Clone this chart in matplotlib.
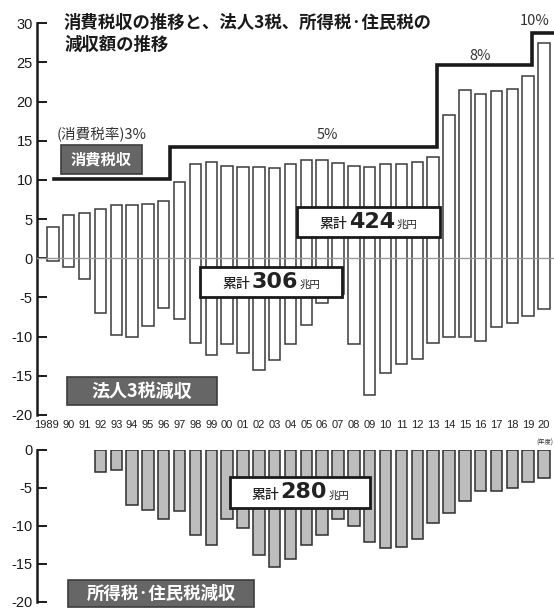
import matplotlib
matplotlib.use("Agg")
import matplotlib.pyplot as plt
from matplotlib import font_manager
from matplotlib.patches import Rectangle
from matplotlib.offsetbox import TextArea, HPacker, AnnotationBbox

# 年度
years = list(range(1989, 2021))
year_labels = ["1989"] + [f"{y % 100:02d}" for y in years[1:]]

# 消費税収(兆円)
consumption = [4.0, 5.5, 5.8, 6.3, 6.8, 6.8, 6.9, 7.3, 9.7, 12.1,
               12.3, 11.8, 11.7, 11.6, 11.5, 12.0, 12.5, 12.5, 12.2, 11.8,
               11.6, 12.1, 12.1, 12.3, 12.9, 18.3, 21.5, 21.0, 21.3, 21.6,
               23.3, 27.5]

# 法人3税減収(兆円)
corporate = [-0.3, -1.1, -2.7, -7.0, -9.8, -10.1, -8.6, -6.3, -7.8, -10.8,
             -12.3, -10.9, -12.1, -14.2, -13.0, -11.0, -8.5, -5.7, -4.5, -11.0,
             -17.5, -14.6, -13.5, -12.8, -10.8, -10.0, -10.1, -10.6, -8.8, -8.2,
             -7.4, -6.5]

# 所得税・住民税減収(兆円)
income = [0, 0, 0, -3.0, -2.7, -7.3, -8.0, -9.1, -8.1, -11.3,
          -12.5, -9.1, -10.3, -13.8, -15.4, -14.4, -12.5, -11.3, -9.1, -10.1,
          -12.2, -12.9, -12.8, -11.8, -9.6, -8.3, -6.8, -5.5, -5.5, -5.1,
          -4.3, -3.7]

# 消費税率の段階線
rate_labels = ["(消費税率)3%", "5%", "8%", "10%"]
rate_start = [1989.1, 1996.4, 2013.22, 2019.22]
rate_level = [10.1, 14.25, 24.7, 28.7]

totals = {"consumption": "424", "corporate": "306", "income": "280"}

W, H = 554, 610
CJK = ["Noto Sans CJK JP", "DejaVu Sans"]
plt.rcParams["font.family"] = CJK
plt.rcParams["axes.unicode_minus"] = False

names = {f.name for f in font_manager.fontManager.ttflist}
NARROW = "Liberation Sans Narrow" if "Liberation Sans Narrow" in names else "Liberation Sans"


def fx(px):
    return px / W


def fy(py):
    return 1 - py / H


fig = plt.figure(figsize=(W / 100, H / 100), dpi=100)
fig.patch.set_facecolor("white")

XMIN, XMAX = 1988.0, 2020.63
ax = fig.add_axes([fx(37), fy(415), fx(554) - fx(37), fy(23.3) - fy(415)])
ax2 = fig.add_axes([fx(37), fy(601.7), fx(554) - fx(37), fy(449.5) - fy(601.7)])

# 上段: 消費税収と法人3税減収を1本の棒で
heights = [c - k for c, k in zip(consumption, corporate)]
ax.bar(years, heights, bottom=corporate, width=0.72, color="white",
       edgecolor="#3a3a3a", linewidth=1.1, zorder=2)
ax.axhline(0, color="#9a9a9a", linewidth=1.0, zorder=3)

# 消費税率の段階線
xs, ys = [], []
ends = rate_start[1:] + [XMAX]
for x0, x1, lv in zip(rate_start, ends, rate_level):
    xs += [x0, x1]
    ys += [lv, lv]
ax.plot(xs, ys, color="#1a1a1a", linewidth=2.6, solid_joinstyle="miter", zorder=4)

ax.set_xlim(XMIN, XMAX)
ax.set_ylim(-20, 30)
ax.set_yticks(range(-20, 31, 5))
ax.set_yticklabels([str(v) for v in range(-20, 31, 5)], family=NARROW, fontsize=10.5)
ax.set_xticks([])

# 下段: 所得税・住民税減収(減収のない年は描かない)
inc_years = [y for y, v in zip(years, income) if v != 0]
inc_vals = [v for v in income if v != 0]
ax2.bar(inc_years, inc_vals, width=0.72, color="#bdbdbd", edgecolor="#2e2e2e",
        linewidth=1.1, zorder=2)
ax2.set_xlim(XMIN, XMAX)
ax2.set_ylim(-20, 0)
ax2.set_yticks(range(-20, 1, 5))
ax2.set_yticklabels([str(v) for v in range(-20, 1, 5)], family=NARROW, fontsize=10.5)
ax2.set_xticks([])

for a in (ax, ax2):
    for side in ("top", "right", "bottom"):
        a.spines[side].set_visible(False)
    a.spines["left"].set_linewidth(1.8)
    a.spines["left"].set_color("#1a1a1a")
    a.tick_params(axis="y", direction="in", length=7, width=1.4, pad=3,
                  colors="#1a1a1a")
    a.set_facecolor("none")

# 年度ラベル
for y, lab in zip(years, year_labels):
    if lab == "1989":
        ax.text(y + 0.38, -20.6, lab, ha="right", va="top", family=NARROW,
                fontsize=8, color="#222222")
    else:
        ax.text(y, -20.6, lab, ha="center", va="top", family=NARROW,
                fontsize=8, color="#222222")
ax.text(XMAX - 0.05, -23.0, "(年度)", ha="right", va="top", fontsize=4.5,
        color="#333333")

# 税率ラベル
rate_pos = [(57, 134, "left"), (327, 135, "center"), (480, 56, "center"),
            (535, 21, "center")]
for (px, py, ha), lab in zip(rate_pos, rate_labels):
    fig.text(fx(px), fy(py), lab, ha=ha, va="center", fontsize=10.5,
             color="#333333")

# タイトル
fig.text(fx(64), fy(22.5), "消費税収の推移と、法人3税、所得税·住民税の",
         ha="left", va="center", fontsize=12.5, fontweight="bold", color="#1a1a1a")
fig.text(fx(64), fy(45), "減収額の推移", ha="left", va="center",
         fontsize=12.5, fontweight="bold", color="#1a1a1a")


def dark_label(x0, y0, x1, y1, text, size):
    fig.add_artist(Rectangle((fx(x0), fy(y1)), fx(x1) - fx(x0), fy(y0) - fy(y1),
                             transform=fig.transFigure, facecolor="#666666",
                             edgecolor="#3c3c3c", linewidth=1.2, zorder=5))
    fig.text(fx((x0 + x1) / 2), fy((y0 + y1) / 2), text, ha="center",
             va="center", fontsize=size, fontweight="bold", color="white",
             zorder=6)


def total_box(x0, y0, x1, y1, value):
    fig.add_artist(Rectangle((fx(x0), fy(y1)), fx(x1) - fx(x0), fy(y0) - fy(y1),
                             transform=fig.transFigure, facecolor="white",
                             edgecolor="#1a1a1a", linewidth=2.0, zorder=5))
    parts = HPacker(children=[
        TextArea("累計", textprops=dict(fontsize=10, color="#222222", fontweight="medium")),
        TextArea(value, textprops=dict(fontsize=16, color="#222222", fontweight="bold",
                                       family="DejaVu Sans")),
        TextArea("兆円", textprops=dict(fontsize=7.5, color="#222222")),
    ], pad=0, sep=1, align="baseline")
    ab = AnnotationBbox(parts, (fx((x0 + x1) / 2), fy((y0 + y1) / 2)),
                        xycoords="figure fraction", frameon=False, zorder=6)
    fig.add_artist(ab)


dark_label(61, 145, 142, 174, "消費税収", 11)
dark_label(67, 377, 217, 405, "法人3税減収", 13)
dark_label(68, 580, 254, 607, "所得税·住民税減収", 12.5)

total_box(297, 207, 440, 237, totals["consumption"])
total_box(200, 267, 342, 297, totals["corporate"])
total_box(230, 477, 370, 508, totals["income"])

fig.savefig("out.png", dpi=100, facecolor="white")
